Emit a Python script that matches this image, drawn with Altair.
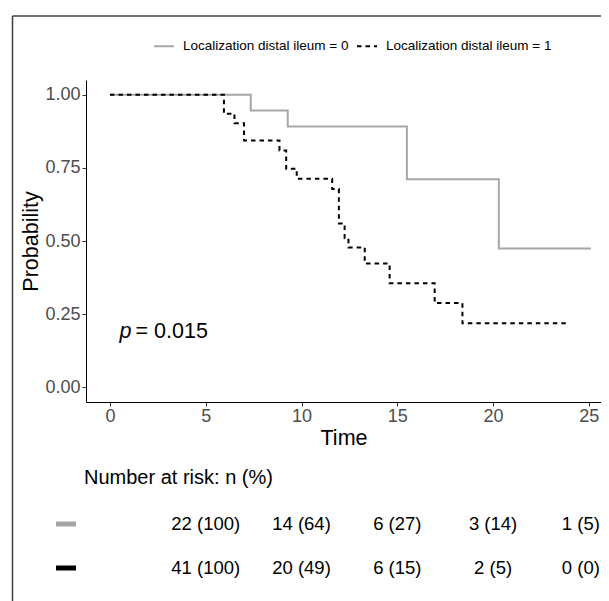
import altair as alt
import pandas as pd

# ---------------- data ----------------
groups = ["Localization distal ileum = 0", "Localization distal ileum = 1"]

times0 = [0, 7.35, 9.28, 15.5, 20.3, 25.1]
surv0 = [1.0, 0.946, 0.891, 0.711, 0.474, 0.474]

times1 = [0, 5.95, 6.5, 7.0, 8.85, 9.2, 9.75, 11.6, 11.95, 12.25, 12.45,
          13.3, 14.6, 16.95, 18.4, 23.9]
surv1 = [1.0, 0.935, 0.902, 0.843, 0.809, 0.747, 0.713, 0.678, 0.56, 0.51,
         0.478, 0.423, 0.356, 0.288, 0.219, 0.219]

risk_cols = [5, 10, 15, 20, 25]
risk0 = ["22 (100)", "14 (64)", "6 (27)", "3 (14)", "1 (5)"]
risk1 = ["41 (100)", "20 (49)", "6 (15)", "2 (5)", "0 (0)"]
risk_rows = [0, 1]

x_ticks = [0, 5, 10, 15, 20, 25]
y_ticks = [0, 0.25, 0.5, 0.75, 1.0]

pval_x = [0.5]
pval_y = [0.19]
pval_text = "= 0.015"
risk_title = "Number at risk: n (%)"

# ---------------- tables ----------------
curves = pd.DataFrame({
    "time": times0 + times1,
    "surv": surv0 + surv1,
    "group": [groups[0]] * len(times0) + [groups[1]] * len(times1),
})
risk = pd.DataFrame({
    "col": risk_cols + risk_cols,
    "label": risk0 + risk1,
    "row": [risk_rows[0]] * len(risk0) + [risk_rows[1]] * len(risk1),
})
pval = pd.DataFrame({"x": pval_x, "y": pval_y})
sw0 = pd.DataFrame({"row": [risk_rows[0]]})
sw1 = pd.DataFrame({"row": [risk_rows[1]]})
one = pd.DataFrame({"a": [0]})

FONT = "Liberation Sans"
GRAY = "#A6A6A6"
W, H = 515, 322
LAST = max(risk_cols)

x_scale = alt.Scale(domain=[-1.25, -1.25 + W / 19.157], nice=False, zero=False)
y_scale = alt.Scale(domain=[-0.05, 1.05], nice=False, zero=False)
row_scale = alt.Scale(domain=[0, 1], range=[444, 488], nice=False, zero=False)

color_scale = alt.Scale(domain=groups, range=[GRAY, "#000000"])
dash_scale = alt.Scale(domain=groups, range=[[1, 0], [4.5, 4]])

legend = alt.Legend(
    title=None, orient="none", legendX=67, legendY=-45,
    direction="horizontal", symbolType="stroke", symbolSize=400,
    symbolStrokeWidth=2, labelFontSize=13.5, labelFont=FONT,
    labelColor="#000000", labelOffset=8, columnPadding=4, padding=0,
    labelLimit=400,
)

x_axis = alt.Axis(
    values=x_ticks, title="Time", grid=False, labelFontSize=18,
    labelColor="#4D4D4D", labelFont=FONT, titleFont=FONT, titleFontSize=21.5,
    titleFontWeight="normal", titleColor="#000000", tickSize=4,
    tickColor="#333333", domainColor="#000000", labelPadding=1,
    titlePadding=2, format="d",
)
y_axis = alt.Axis(
    values=y_ticks, title="Probability", grid=False, labelFontSize=18,
    labelColor="#4D4D4D", labelFont=FONT, titleFont=FONT, titleFontSize=21.5,
    titleFontWeight="normal", titleColor="#000000", tickSize=4,
    tickColor="#333333", domainColor="#000000", labelPadding=2,
    titlePadding=2, format=".2f",
)

lines = alt.Chart(curves).mark_line(
    interpolate="step-after", strokeWidth=2, clip=False
).encode(
    x=alt.X("time:Q", scale=x_scale, axis=x_axis),
    y=alt.Y("surv:Q", scale=y_scale, axis=y_axis),
    color=alt.Color("group:N", scale=color_scale, legend=legend),
    strokeDash=alt.StrokeDash("group:N", scale=dash_scale, legend=legend),
)

p_it = alt.Chart(pval).mark_text(
    text="p", fontStyle="italic", fontSize=21.5, font=FONT, align="left",
    baseline="middle", color="#000000"
).encode(x=alt.X("x:Q", scale=x_scale), y=alt.Y("y:Q", scale=y_scale))
p_val = alt.Chart(pval).mark_text(
    text=pval_text, fontSize=21.5, font=FONT, align="left",
    baseline="middle", color="#000000", dx=16
).encode(x=alt.X("x:Q", scale=x_scale), y=alt.Y("y:Q", scale=y_scale))

plot = alt.layer(lines, p_it, p_val)

risk_enc = dict(
    x=alt.X("col:Q", scale=x_scale),
    y=alt.Y("row:Q", scale=row_scale, axis=None),
    text="label:N",
)
risk_text = alt.Chart(risk).transform_filter(
    alt.datum.col < LAST
).mark_text(
    fontSize=18.5, font=FONT, align="center", baseline="middle",
    color="#000000", clip=False
).encode(**risk_enc)
risk_last = alt.Chart(risk).transform_filter(
    alt.datum.col == LAST
).mark_text(
    fontSize=18.5, font=FONT, align="right", baseline="middle",
    color="#000000", clip=False, dx=11
).encode(**risk_enc)
swatch0 = alt.Chart(sw0).mark_rule(strokeWidth=5, color=GRAY).encode(
    x=alt.value(-30), x2=alt.value(-10),
    y=alt.Y("row:Q", scale=row_scale, axis=None),
)
swatch1 = alt.Chart(sw1).mark_rule(strokeWidth=5, color="#000000").encode(
    x=alt.value(-30), x2=alt.value(-10),
    y=alt.Y("row:Q", scale=row_scale, axis=None),
)
header = alt.Chart(one).mark_text(
    text=risk_title, fontSize=20, font=FONT, align="left",
    baseline="middle", color="#000000"
).encode(x=alt.value(-2), y=alt.value(398))

frame_left = alt.Chart(one).mark_rule(color="#404040", strokeWidth=1.5).encode(
    x=alt.value(-73.5), y=alt.value(-64), y2=alt.value(525)
)
frame_top = alt.Chart(one).mark_rule(color="#404040", strokeWidth=1.5).encode(
    x=alt.value(-73.5), x2=alt.value(W), y=alt.value(-64)
)

table = alt.layer(risk_text, risk_last, swatch0, swatch1)

chart = alt.layer(plot, table, header, frame_left, frame_top).resolve_scale(
    y="independent"
).properties(
    width=W, height=H,
    autosize=alt.AutoSizeParams(type="none"),
    padding={"left": 78, "top": 72, "right": 0, "bottom": 199},
).configure_view(stroke=None)

chart.save("out.html", embed_options={"renderer": "svg", "actions": False})
